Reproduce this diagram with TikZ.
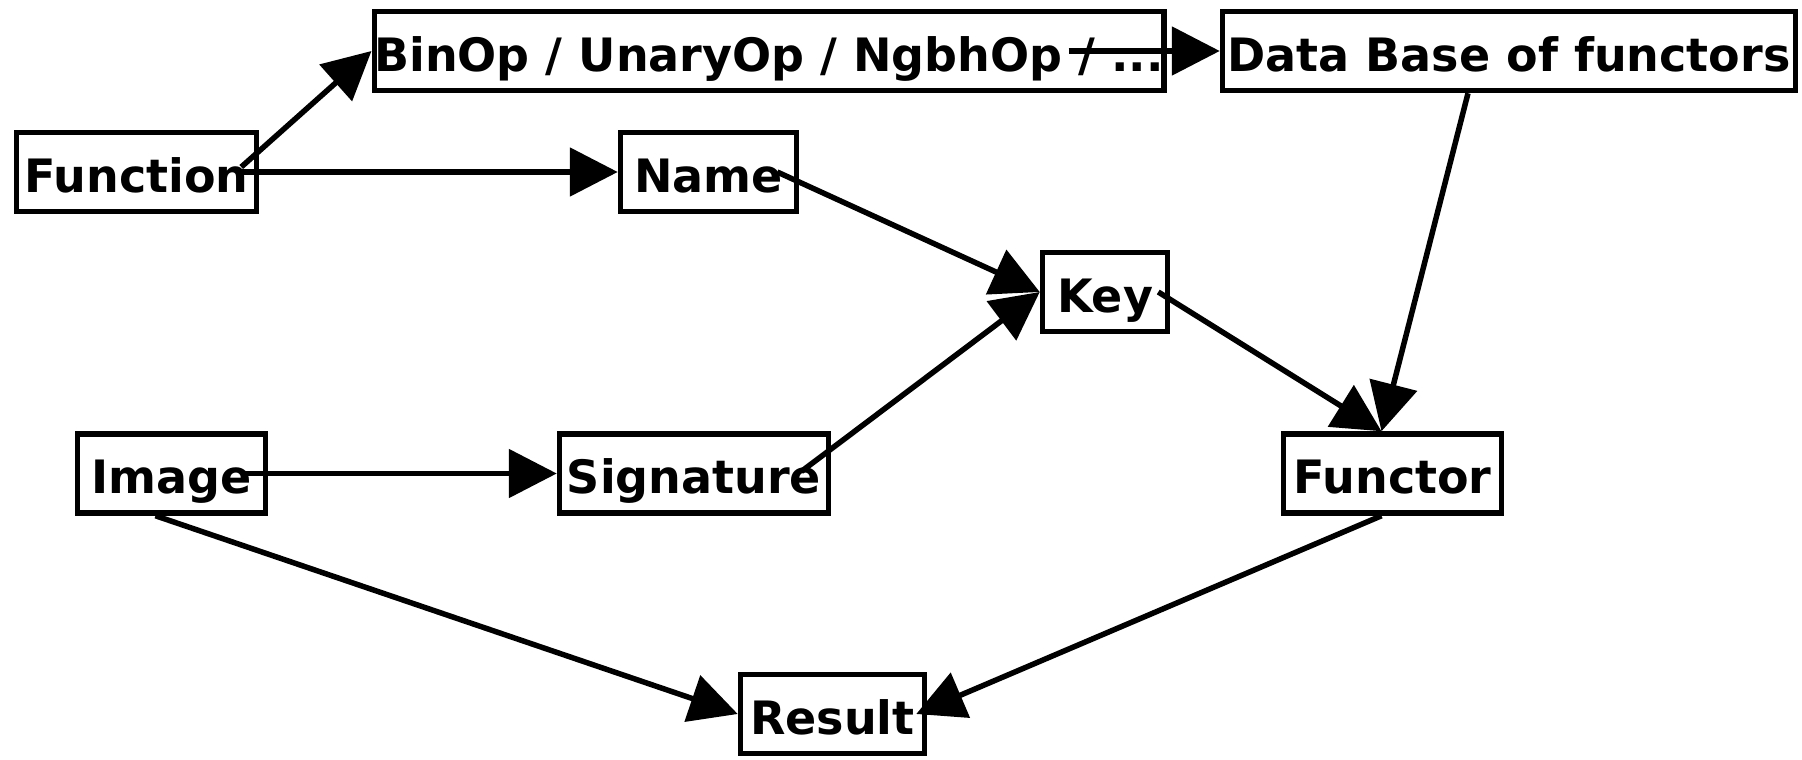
\documentclass[tikz,border=0pt]{standalone}
\usepackage{fontspec}
\setmainfont{DejaVu Sans}
\usetikzlibrary{arrows.meta}
\begin{document}
\begin{tikzpicture}[x=1pt,y=-1pt,
  box/.style={draw, line width=5.5pt, inner sep=0pt, minimum height=79pt,
    text height=40pt, text depth=0pt,
    font=\fontsize{46}{55}\selectfont\bfseries},
  arr/.style={line width=5.5pt, -{Triangle[length=48pt,width=48pt]}}]
\useasboundingbox (0,0) rectangle (1802,760);
\node[box, minimum width=779pt] (binop) at (769,51) {BinOp / UnaryOp / NgbhOp / ...};
\node[box, minimum width=573pt] (db) at (1509,51) {Data Base of functors};
\node[box, minimum width=240pt] (function) at (136.5,172) {Function};
\node[box, minimum width=176pt] (name) at (708.5,172) {Name};
\node[box, minimum width=125pt] (key) at (1105,292) {Key};
\node[box, minimum width=188pt] (image) at (171.5,473.5) {Image};
\node[box, minimum width=269pt] (signature) at (694,473.5) {Signature};
\node[box, minimum width=218pt] (functor) at (1392.5,473.5) {Functor};
\node[box, minimum width=184pt] (result) at (832.5,714) {Result};

\draw[arr] ([xshift=-18pt,yshift=5pt]function.east) -- (binop.west);
\draw[arr] ([xshift=-18pt]function.east) -- (name.west);
\draw[arr] ([xshift=-98pt]binop.east) -- (db.west);
\draw[arr] ([xshift=-22pt]name.east) -- (key.west);
\draw[arr] ([xshift=-30pt,yshift=2pt]signature.east) -- (key.west);
\draw[arr] ([xshift=-12pt]key.east) -- ([xshift=-11pt]functor.north);
\draw[arr] ([xshift=-41pt]db.south) -- ([xshift=-11pt]functor.north);
\draw[arr] ([xshift=-23pt]image.east) -- (signature.west);
\draw[arr] ([xshift=-16pt]image.south) -- (result.west);
\draw[arr] ([xshift=-11pt]functor.south) -- ([xshift=-11pt]result.east);
\end{tikzpicture}
\end{document}
